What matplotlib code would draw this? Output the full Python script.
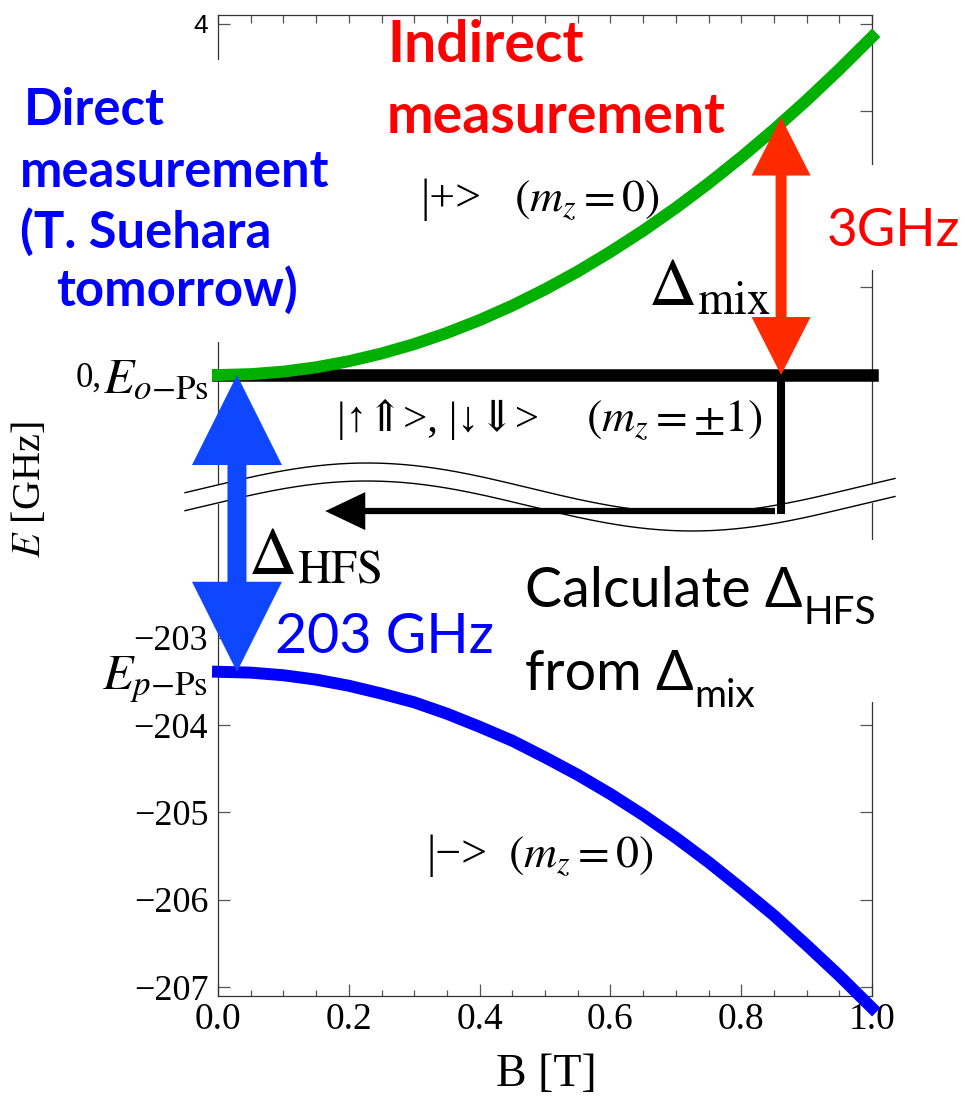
import numpy as np
import matplotlib
matplotlib.use("Agg")
import matplotlib.pyplot as plt
from matplotlib.patches import Polygon, Rectangle

plt.rcParams['font.family'] = ['Liberation Serif', 'DejaVu Serif']
plt.rcParams['mathtext.fontset'] = 'stix'

W, H = 965, 1100

# magnetic field [T] and level energies [GHz]
B = [0.00, 0.05, 0.10, 0.15, 0.20, 0.25, 0.30, 0.35, 0.40, 0.45, 0.50,
     0.55, 0.60, 0.65, 0.70, 0.75, 0.80, 0.85, 0.90, 0.95, 1.00]
E_plus = [0.000, 0.010, 0.039, 0.088, 0.157, 0.245, 0.352, 0.479, 0.625, 0.790, 0.975,
          1.178, 1.402, 1.642, 1.902, 2.181, 2.478, 2.793, 3.126, 3.478, 3.847]
E_minus = [-203.39, -203.40, -203.43, -203.48, -203.55, -203.64, -203.74, -203.87, -204.02, -204.18, -204.37,
           -204.57, -204.79, -205.03, -205.29, -205.57, -205.87, -206.18, -206.52, -206.87, -207.24]
E_mz1 = [0.0, 0.0]
B_mz1 = [0.0, 1.0]

E_oPs = 0.0
E_pPs = -203.39
B_direct = 0.029
B_mix = 0.861
E_mix_top = 2.93
E_calc = -201.55
B_calc_end = 0.164

top_ticks = [0, 1, 2, 3, 4]
top_labels = ['$E_{o{-}\\mathrm{Ps}}$', '', '', '', '4']
bot_ticks = [-207, -206, -205, -204, -203, E_pPs]
bot_labels = ['\u2212207', '\u2212206', '\u2212205', '\u2212204', '\u2212203', '$E_{p{-}\\mathrm{Ps}}$']

fig = plt.figure(figsize=(W / 100, H / 100), dpi=100)

def fx(x):
    return x / W

def fy(y):
    return 1 - y / H

left, right = 218, 872
ax_t = fig.add_axes([fx(left), fy(500), (right - left) / W, (500 - 15) / H])
ax_b = fig.add_axes([fx(left), fy(996), (right - left) / W, (996 - 500) / H])

ax_t.set_xlim(0, 1)
ax_t.set_ylim(-1.422, 4.097)
ax_b.set_xlim(0, 1)
ax_b.set_ylim(-207.103, -201.423)

for ax in (ax_t, ax_b):
    for s in ax.spines.values():
        s.set_linewidth(0.9)
        s.set_color('#333333')
    ax.set_xticks(np.arange(0, 1.01, 0.2))
    ax.set_xticks(np.arange(0, 1.01, 0.05), minor=True)
    ax.tick_params(which='both', direction='in', color='#555555', width=0.9)
    ax.tick_params(which='major', length=8.5)
    ax.tick_params(which='minor', length=4.5)

ax_t.spines['bottom'].set_visible(False)
ax_t.tick_params(axis='x', which='both', bottom=False, top=True, labelbottom=False, length=5.5)
ax_t.set_yticks(top_ticks)
ax_t.set_yticklabels(top_labels)
ax_t.tick_params(axis='y', right=True, pad=7)
labs = ax_t.get_yticklabels()
labs[0].set_fontsize(36)
labs[4].set_fontsize(19)
labs[4].set_family('Liberation Sans')

ax_b.spines['top'].set_visible(False)
ax_b.tick_params(axis='x', top=False, labelsize=27, pad=5)
ax_b.set_xticklabels(['0.0', '0.2', '0.4', '0.6', '0.8', '1.0'])
ax_b.set_yticks(bot_ticks)
ax_b.set_yticklabels(bot_labels)
ax_b.tick_params(axis='y', right=True, pad=7, labelsize=26)
ax_b.get_yticklabels()[5].set_fontsize(36)

# level curves
ax_t.plot(B_mz1, E_mz1, color='black', lw=9, solid_capstyle='projecting', clip_on=False, zorder=3)
ax_t.plot(B, E_plus, color='#00b000', lw=8.6, solid_capstyle='projecting',
          solid_joinstyle='round', clip_on=False, zorder=4)
ax_b.plot(B, E_minus, color='#0000ff', lw=8.6, solid_capstyle='projecting',
          solid_joinstyle='round', clip_on=False, zorder=4)

fig.text(fx(30), fy(490), '$E$ [GHz]', rotation=90, ha='center', va='center', fontsize=29)
fig.text(fx(546), fy(1075), 'B [T]', ha='center', va='center', fontsize=33)

# overlay in pixel coordinates (y down)
ov = fig.add_axes([0, 0, 1, 1])
ov.set_xlim(0, W)
ov.set_ylim(H, 0)
ov.axis('off')
ov.patch.set_alpha(0)


def px(ax, x, y):
    X, Y = ax.transData.transform((x, y))
    return X, H - Y


# "0," in front of the E_o-Ps tick label
ov.text(102, 387, '0,', fontsize=25, ha='right', zorder=7)

# axis break
xs = np.linspace(185, 895, 200)
yu = 488 - 25 * np.sin(2 * np.pi * (xs - 204.5) / 650)
yl = yu + 18
ov.fill_between(xs, yu, yl, color='white', zorder=1)
ov.plot(xs, yu, color='black', lw=1.0, zorder=2)
ov.plot(xs, yl, color='black', lw=1.0, zorder=2)

# white boxes of the pasted labels
ov.add_patch(Rectangle((15, 60), 320, 282, fc='white', ec='none', zorder=1))
ov.add_patch(Rectangle((815, 165), 150, 105, fc='white', ec='none', zorder=1))
ov.add_patch(Rectangle((515, 540), 375, 162, fc='white', ec='none', zorder=1))


def double_arrow(xc, y1, y2, sw, hw, hl, color):
    pts = [(xc, y1), (xc + hw / 2, y1 + hl), (xc + sw / 2, y1 + hl), (xc + sw / 2, y2 - hl),
           (xc + hw / 2, y2 - hl), (xc, y2), (xc - hw / 2, y2 - hl), (xc - sw / 2, y2 - hl),
           (xc - sw / 2, y1 + hl), (xc - hw / 2, y1 + hl)]
    ov.add_patch(Polygon(pts, closed=True, fc=color, ec='none', zorder=6))


# direct measurement arrow (Delta HFS)
x1, y1 = px(ax_t, B_direct, E_oPs)
x2, y2 = px(ax_b, B_direct, E_pPs)
double_arrow(x1, y1, y2, 19, 90, 90, '#0f46ff')

# indirect measurement arrow (Delta mix)
x1, y1 = px(ax_t, B_mix, E_mix_top)
x2, y2 = px(ax_t, B_mix, E_oPs)
double_arrow(x1, y1, y2, 11, 59, 58, '#ff2a00')

# calculation path
xa, ya = px(ax_t, B_mix, E_oPs)
xb, yb = px(ax_b, B_mix, E_calc - 0.03)
ov.plot([xa, xb], [ya, yb], color='black', lw=5.8, solid_capstyle='butt', zorder=5)
xt, yt = px(ax_b, B_calc_end, E_calc)
xs0, _ = px(ax_b, B_mix - 0.009, E_calc)
hl, hw = 40, 38
ov.add_patch(Polygon([(xt, yt), (xt + hl, yt - hw / 2), (xt + hl, yt + hw / 2)], closed=True,
                     fc='black', ec='none', zorder=5))
ov.plot([xt + hl - 2, xs0], [yt, yt], color='black', lw=4.5, solid_capstyle='butt', zorder=5)

# labels
sans = ['Lato', 'DejaVu Sans']
ov.text(387, 62, 'Indirect', color='#ff0000', fontsize=41, weight='bold', family=sans, zorder=7)
ov.text(387, 133, 'measurement', color='#ff0000', fontsize=40, weight='bold', family=sans, zorder=7)
for t, x, y in [('Direct', 24, 125), ('measurement', 20, 187), ('(T. Suehara', 20, 248),
                ('tomorrow)', 56, 306)]:
    ov.text(x, y, t, color='#0000ff', fontsize=36.5, weight='bold', family=sans, zorder=7)
ov.text(827, 246, '3GHz', color='#ff0000', fontsize=38, family=sans, zorder=7)
ov.text(275, 653, '203 GHz', color='#0000ff', fontsize=40, family=sans, zorder=7)

ov.text(420, 211, '|+>', fontsize=33, zorder=7)
ov.text(514, 211, '$(m_z=0)$', fontsize=33, zorder=7)
ov.text(337, 431, '|\u2191\u21d1>, |\u2193\u21d3>', fontsize=31, zorder=7)
ov.text(586, 431, '$(m_z=\\pm1)$', fontsize=33, zorder=7)
ov.text(427, 867, '|\u2212>', fontsize=33, zorder=7)
ov.text(508, 867, '$(m_z=0)$', fontsize=33, zorder=7)
ov.text(248, 575, r'$\Delta_{\mathrm{HFS}}$', fontsize=48, zorder=7)
ov.text(648, 305, r'$\Delta_{\mathrm{mix}}$', fontsize=48, zorder=5)

renderer = fig.canvas.get_renderer()
for main, sub, y in [('Calculate \u0394', 'HFS', 607), ('from \u0394', 'mix', 690)]:
    t = ov.text(525, y, main, fontsize=40, family=sans, zorder=7)
    bb = t.get_window_extent(renderer)
    ov.text(bb.x1 + 1, y + 17, sub, fontsize=28, family=sans, zorder=7)

fig.savefig('out.png', dpi=100)
